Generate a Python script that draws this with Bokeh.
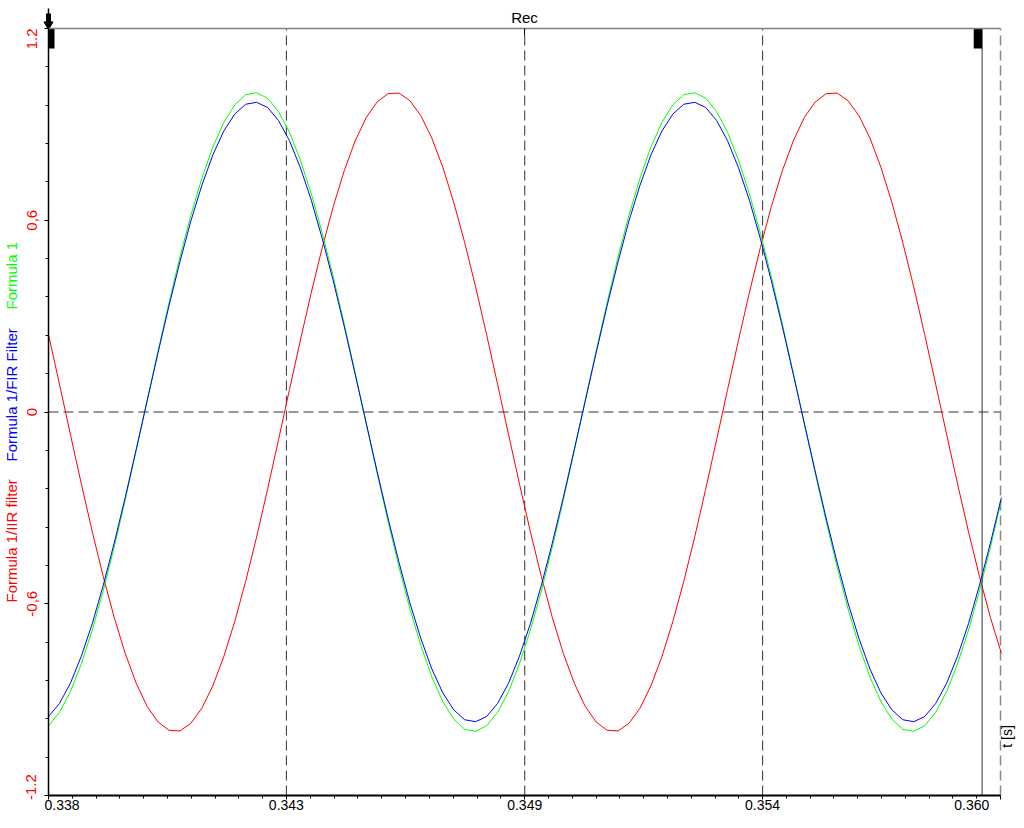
import math
import numpy as np
from bokeh.plotting import figure
from bokeh.models import Range1d, FixedTicker, LinearAxis, Label
from bokeh.embed import file_html
from bokeh.resources import INLINE

# ---------------- data ----------------
t_start = 0.338      # s, first sample shown
dt = 0.00025         # s, sample spacing

formula1 = [
    -0.982, -0.940, -0.875, -0.788, -0.682, -0.559, -0.423, -0.276, -0.122,
    0.035, 0.191, 0.342, 0.485, 0.616, 0.731, 0.829, 0.906, 0.961, 0.993,
    0.999, 0.982, 0.940, 0.875, 0.788, 0.682, 0.559, 0.423, 0.276, 0.122,
    -0.035, -0.191, -0.342, -0.485, -0.616, -0.731, -0.829, -0.906, -0.961, -0.993,
    -0.999, -0.982, -0.940, -0.875, -0.788, -0.682, -0.559, -0.423, -0.276, -0.122,
    0.035, 0.191, 0.342, 0.485, 0.616, 0.731, 0.829, 0.906, 0.961, 0.993,
    0.999, 0.982, 0.940, 0.875, 0.788, 0.682, 0.559, 0.423, 0.276, 0.122,
    -0.035, -0.191, -0.342, -0.485, -0.616, -0.731, -0.829, -0.906, -0.961, -0.993,
    -0.999, -0.982, -0.940, -0.875, -0.788, -0.682, -0.559, -0.423, -0.276,
]

fir_filter = [
    -0.953, -0.912, -0.849, -0.764, -0.662, -0.542, -0.410, -0.268, -0.118,
    0.034, 0.185, 0.332, 0.470, 0.598, 0.709, 0.804, 0.879, 0.932, 0.963,
    0.969, 0.953, 0.912, 0.849, 0.764, 0.662, 0.542, 0.410, 0.268, 0.118,
    -0.034, -0.185, -0.332, -0.470, -0.598, -0.709, -0.804, -0.879, -0.932, -0.963,
    -0.969, -0.953, -0.912, -0.849, -0.764, -0.662, -0.542, -0.410, -0.268, -0.118,
    0.034, 0.185, 0.332, 0.470, 0.598, 0.709, 0.804, 0.879, 0.932, 0.963,
    0.969, 0.953, 0.912, 0.849, 0.764, 0.662, 0.542, 0.410, 0.268, 0.118,
    -0.034, -0.185, -0.332, -0.470, -0.598, -0.709, -0.804, -0.879, -0.932, -0.963,
    -0.969, -0.953, -0.912, -0.849, -0.764, -0.662, -0.542, -0.410, -0.268,
]

iir_filter = [
    0.242, 0.087, -0.070, -0.225, -0.375, -0.515, -0.643, -0.755, -0.848, -0.921,
    -0.970, -0.996, -0.998, -0.974, -0.927, -0.857, -0.766, -0.656, -0.530, -0.391,
    -0.242, -0.087,
    0.070, 0.225, 0.375, 0.515, 0.643, 0.755, 0.848, 0.921, 0.970, 0.996,
    0.998, 0.974, 0.927, 0.857, 0.766, 0.656, 0.530, 0.391, 0.242, 0.087,
    -0.070, -0.225, -0.375, -0.515, -0.643, -0.755, -0.848, -0.921, -0.970, -0.996,
    -0.998, -0.974, -0.927, -0.857, -0.766, -0.656, -0.530, -0.391, -0.242, -0.087,
    0.070, 0.225, 0.375, 0.515, 0.643, 0.755, 0.848, 0.921, 0.970, 0.996,
    0.998, 0.974, 0.927, 0.857, 0.766, 0.656, 0.530, 0.391, 0.242, 0.087,
    -0.070, -0.225, -0.375, -0.515, -0.643, -0.755,
]

t = [round(t_start + i * dt, 5) for i in range(len(formula1))]

x_ticks = [0.33800, 0.34343, 0.34887, 0.35430, 0.35973]
x_tick_labels = ["0.338", "0.343", "0.349", "0.354", "0.360"]
y_ticks = [-1.2, -0.6, 0.0, 0.6, 1.2]
y_tick_labels = ["-1.2", "-0,6", "0", "0,6", "1.2"]
series_names = ["Formula 1/IIR filter", "Formula 1/FIR Filter", "Formula 1"]
series_colors = ["#ff0000", "#0000ff", "#00ff00"]
cursor_times = [0.33800, 0.35931]
top_title = "Rec"
x_unit = "t [s]"

# ---------------- layout (pixels) ----------------
FONT = "Liberation Sans"
W, H = 1016, 812
PX_L, PX_R = 48, 1000       # plot area, horizontal
PY_T, PY_B = 28, 795        # plot area, vertical
x0, x1 = x_ticks[0], x_ticks[-1]
y0, y1 = y_ticks[0], y_ticks[-1]
s_x = (x1 - x0) / (PX_R - PX_L)
s_y = (y1 - y0) / (PY_B - PY_T)


def px2x(px):
    return x0 + (px - PX_L) * s_x


def py2y(py):
    return y1 - (py - PY_T) * s_y


p = figure(width=W, height=H,
           x_range=Range1d(px2x(0), px2x(W)), y_range=Range1d(py2y(H), py2y(0)),
           output_backend="svg", toolbar_location=None,
           x_axis_type=None, y_axis_type=None, min_border=0)
p.outline_line_color = None
p.xgrid.visible = False
p.ygrid.visible = False
p.background_fill_color = "white"
p.border_fill_color = "white"

NB = "\u00a0"

# ---- axes (fixed at the plot-area edges) ----
x_minor = []
for a, b in zip(x_ticks[:-1], x_ticks[1:]):
    x_minor += [float(v) for v in np.linspace(a, b, 11)[1:-1]]
y_minor = []
for a, b in zip(y_ticks[:-1], y_ticks[1:]):
    y_minor += [float(v) for v in np.linspace(a, b, 6)[1:-1]]

x_over = {v: l for v, l in zip(x_ticks, x_tick_labels)}
x_over[x_ticks[0]] = NB * 7 + x_tick_labels[0]
x_over[x_ticks[-1]] = x_tick_labels[-1] + NB * 7

xa = LinearAxis(fixed_location=y0, bounds=(x0, x1),
                ticker=FixedTicker(ticks=x_ticks, minor_ticks=x_minor),
                major_label_overrides=x_over)
xa.axis_line_color = "black"
xa.axis_line_width = 2
xa.major_tick_out = 4
xa.major_tick_in = 0
xa.minor_tick_out = 3
xa.minor_tick_in = 0
xa.major_tick_line_color = "black"
xa.minor_tick_line_color = "black"
xa.major_label_text_font = FONT
xa.major_label_text_font_size = "14px"
xa.major_label_text_color = "black"
xa.major_label_standoff = -3
p.add_layout(xa, "below")

y_over = {v: l for v, l in zip(y_ticks, y_tick_labels)}
y_over[y_ticks[-1]] = y_tick_labels[-1] + NB * 5
y_over[y_ticks[0]] = NB * 3 + y_tick_labels[0]

ya = LinearAxis(fixed_location=x0, bounds=(y0, y1),
                ticker=FixedTicker(ticks=y_ticks, minor_ticks=y_minor),
                major_label_overrides=y_over)
ya.axis_line_color = "black"
ya.axis_line_width = 1.5
ya.major_tick_out = 4
ya.major_tick_in = 0
ya.minor_tick_out = 3
ya.minor_tick_in = 0
ya.major_tick_line_color = "black"
ya.minor_tick_line_color = "black"
ya.major_label_text_font = FONT
ya.major_label_text_font_size = "15px"
ya.major_label_text_color = "#ff0000"
ya.major_label_orientation = "vertical"
ya.major_label_standoff = 5
p.add_layout(ya, "left")

xc = (x0 + x1) / 2
ta = LinearAxis(fixed_location=y1, bounds=(x0, x1),
                ticker=FixedTicker(ticks=[xc], minor_ticks=[]),
                major_label_overrides={xc: top_title})
ta.axis_line_color = "#808080"
ta.axis_line_width = 1.5
ta.major_tick_in = 7
ta.major_tick_out = 0
ta.major_tick_line_color = "black"
ta.minor_tick_in = 0
ta.minor_tick_out = 0
ta.major_label_text_font = FONT
ta.major_label_text_font_size = "15px"
ta.major_label_text_color = "black"
ta.major_label_standoff = 3
p.add_layout(ta, "above")

# ---- grid (dashed) ----
DASH = "10 5"
inner = x_ticks[1:-1]
p.segment(x0=inner, y0=[y0] * len(inner), x1=inner, y1=[y1] * len(inner),
          line_color="#333333", line_dash=DASH, line_width=1)
p.segment(x0=[x0], y0=[0.0], x1=[x1], y1=[0.0],
          line_color="#333333", line_dash=DASH, line_width=1)
p.segment(x0=[x1], y0=[y0], x1=[x1], y1=[y1],
          line_color="#8a8a8a", line_dash=DASH, line_width=1.5)

# ---- series ----
p.line(t, iir_filter, line_color=series_colors[0], line_width=1)
p.line(t, formula1, line_color=series_colors[2], line_width=1)
p.line(t, fir_filter, line_color=series_colors[1], line_width=1)

# ---- cursors ----
p.segment(x0=[cursor_times[1]], y0=[y0], x1=[cursor_times[1]], y1=[y1],
          line_color="#333333", line_width=1)
p.quad(left=[cursor_times[0], cursor_times[1] - 8.4 * s_x],
       right=[cursor_times[0] + 6 * s_x, cursor_times[1]],
       top=[y1, y1], bottom=[y1 - 20 * s_y, y1 - 20 * s_y],
       fill_color="black", line_color=None)
# start marker above the plot area
p.segment(x0=[cursor_times[0]], y0=[y1], x1=[cursor_times[0]], y1=[y1 + 20 * s_y],
          line_color="black", line_width=1.5)
p.quad(left=[cursor_times[0] - 2.5 * s_x], right=[cursor_times[0] + 2.5 * s_x],
       top=[y1 + 15 * s_y], bottom=[y1 + 6 * s_y], fill_color="black", line_color=None)
p.scatter(x=[cursor_times[0]], y=[y1 + 4 * s_y], marker="inverted_triangle", size=9,
          fill_color="black", line_color="black")

# ---- multi-coloured y title ----
title_start_py = [602, 461, 309]
for name, col, py in zip(series_names, series_colors, title_start_py):
    p.add_layout(Label(x=px2x(11), y=py2y(py), text=name,
                       text_font=FONT, text_font_size="15px", text_color=col,
                       angle=math.pi / 2, text_align="left", text_baseline="alphabetic"))

p.add_layout(Label(x=px2x(1006), y=py2y(736), text=x_unit,
                   text_font=FONT, text_font_size="14px", text_color="black",
                   angle=math.pi / 2, text_align="center", text_baseline="alphabetic"))

open("out.html", "w").write(file_html(p, INLINE))
